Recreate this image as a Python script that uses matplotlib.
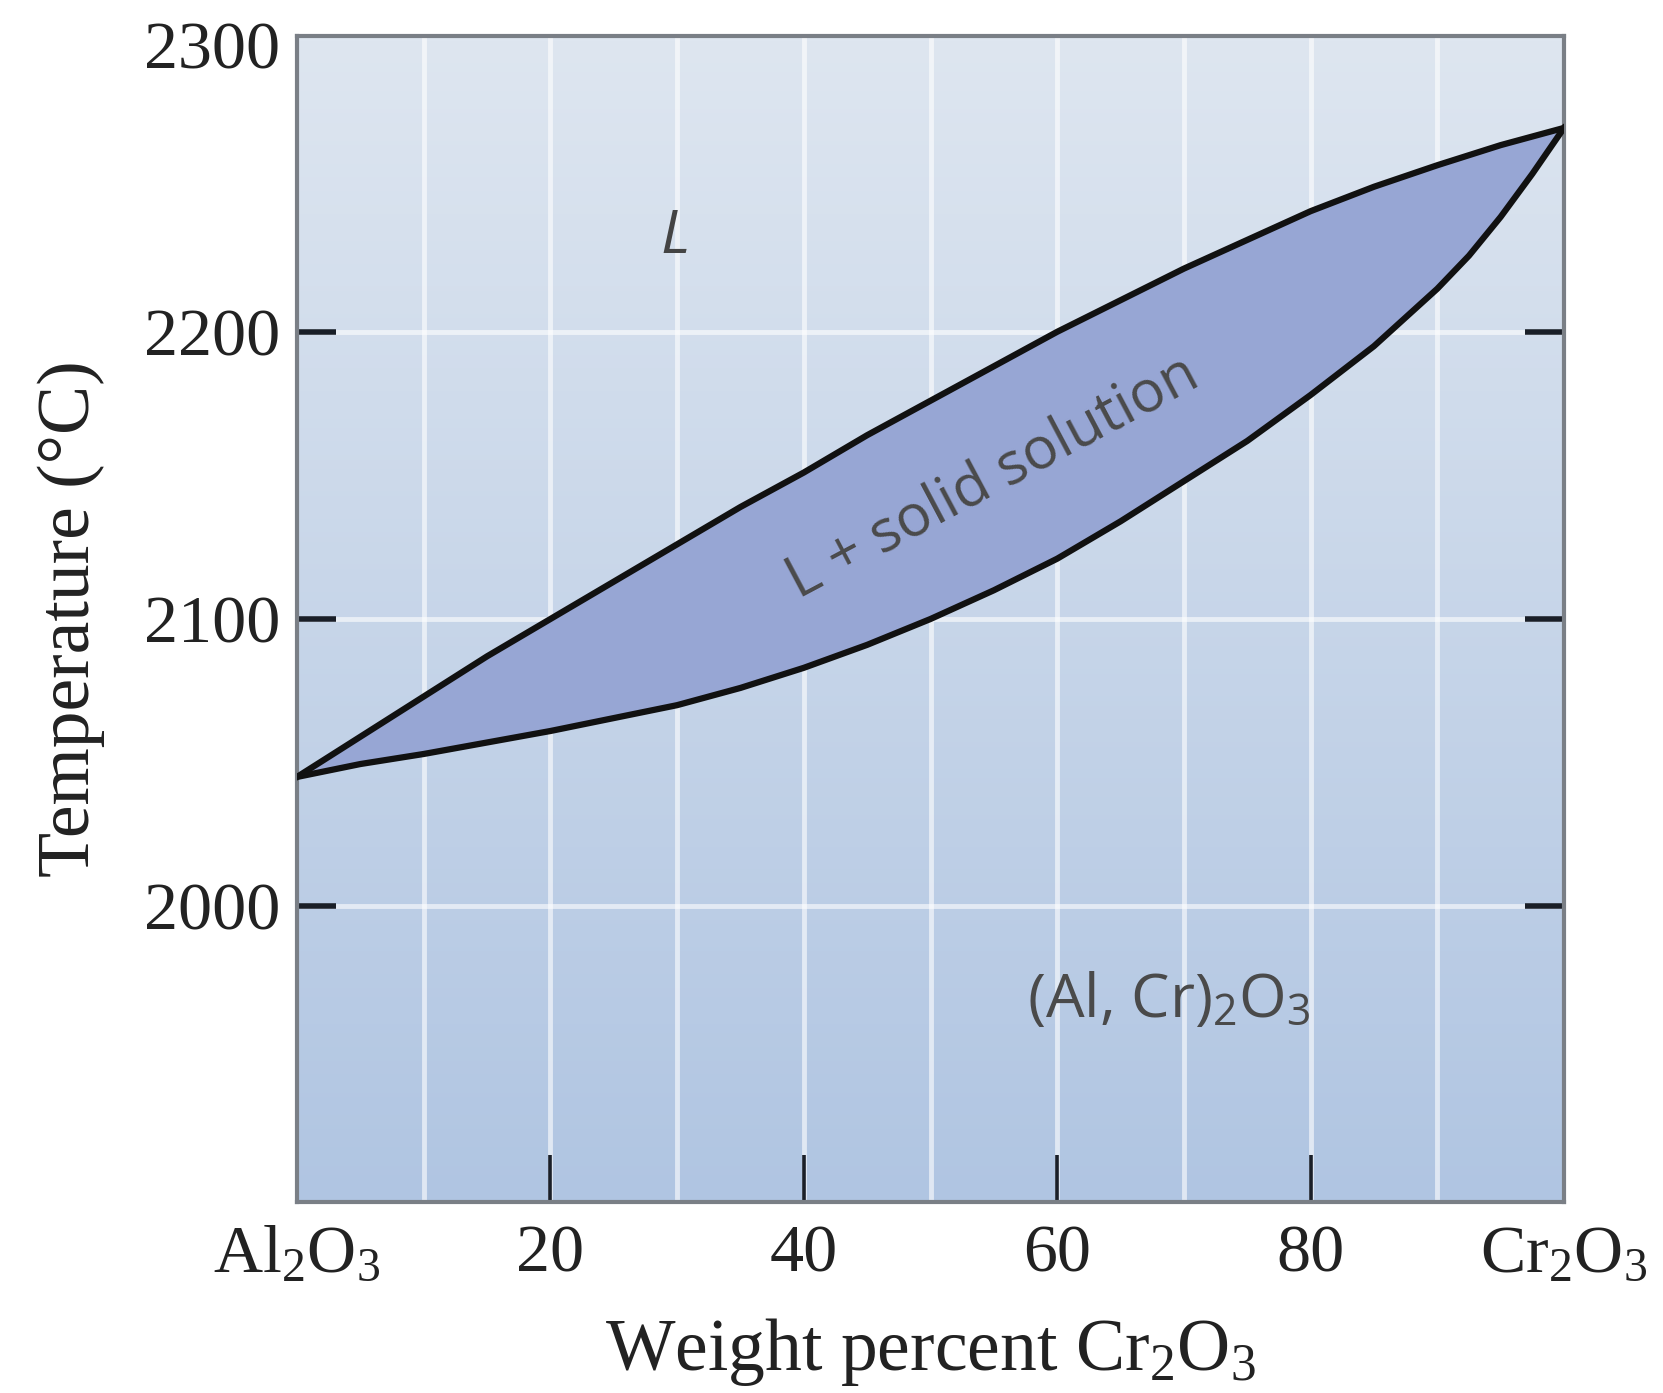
import numpy as np
import matplotlib.pyplot as plt

plt.rcParams['mathtext.fontset'] = 'custom'
plt.rcParams['mathtext.rm'] = 'Liberation Serif'
plt.rcParams['mathtext.it'] = 'Liberation Serif:italic'
plt.rcParams['mathtext.sf'] = 'Open Sans'

# composition (wt% Cr2O3) and phase boundary temperatures (C)
wt = [0, 5, 10, 15, 20, 25, 30, 35, 40, 45, 50, 55, 60, 65, 70, 75, 80, 85, 90,
      92.5, 95, 97.5, 100]
T_liquidus = [2045, 2059, 2073, 2087, 2100, 2113, 2126, 2139, 2151, 2164, 2176,
              2188, 2200, 2211, 2222, 2232, 2242, 2250.5, 2258, 2261.5, 2265, 2268, 2271]
T_solidus = [2045, 2049.5, 2053, 2057, 2061, 2065.5, 2070, 2076, 2083, 2091, 2100,
             2110, 2121, 2134, 2148, 2162, 2178, 2195, 2215, 2226.5, 2240, 2255, 2271]

xticks = [0, 20, 40, 60, 80, 100]
xticklabels = ['Al$_2$O$_3$', '20', '40', '60', '80', 'Cr$_2$O$_3$']
yticks = [2000, 2100, 2200, 2300]

W, H = 1663, 1393
fig = plt.figure(figsize=(W/100, H/100), dpi=100)
ax = fig.add_axes([297/W, 1-1202/H, (1564-297)/W, (1202-36)/H])
ax.set_xlim(0, 100)
ax.set_ylim(1897, 2303)

# background gradient, pale at the top and bluer at the bottom
top = np.array([222, 230, 240])/255
bot = np.array([176, 197, 226])/255
g = np.linspace(0, 1, 256)[:, None]
grad = (top*(1-g) + bot*g)[:, None, :].repeat(2, axis=1)
ax.imshow(grad, extent=[0, 100, 1897, 2303], aspect='auto', origin='upper', zorder=0)

for x in range(10, 100, 10):
    ax.axvline(x, color='white', lw=3.5, alpha=0.6, zorder=1)
for y in [2000, 2100, 2200]:
    ax.axhline(y, color='white', lw=3.5, alpha=0.6, zorder=1)

# two phase region
ax.fill_between(wt, T_solidus, T_liquidus, color='#97a6d4', zorder=2, lw=0)
ax.plot(wt, T_liquidus, color='#111111', lw=4.5, zorder=3, solid_joinstyle='round')
ax.plot(wt, T_solidus, color='#111111', lw=4.5, zorder=3, solid_joinstyle='round')

for s in ax.spines.values():
    s.set_color('#7a7f86')
    s.set_linewidth(3)

serif = 'Liberation Serif'
ax.set_xticks(xticks)
ax.set_xticklabels(xticklabels, fontfamily=serif, fontsize=49, color='#222222')
ax.set_yticks(yticks)
ax.set_yticklabels([str(v) for v in yticks], fontfamily=serif, fontsize=49, color='#222222')
ax.tick_params(axis='x', direction='in', length=34, width=2.6, color='#1a1f28', pad=16)
ax.tick_params(axis='y', direction='in', length=28, width=4, color='#1a1f28', pad=12,
               right=True)
# hide the ticks that have no mark in the diagram
for i, t in enumerate(ax.xaxis.get_major_ticks()):
    if i in (0, len(xticks)-1):
        t.tick1line.set_visible(False)
for t in ax.yaxis.get_major_ticks()[-1:]:
    t.tick1line.set_visible(False)
    t.tick2line.set_visible(False)

ax.set_xlabel('Weight percent Cr$_2$O$_3$', fontfamily=serif, fontsize=53, color='#222222',
              labelpad=22)
ax.set_ylabel('Temperature (°C)', fontfamily=serif, fontsize=53, color='#222222', labelpad=28)

sans = 'Open Sans'
ax.text(29.8, 2233, 'L', fontfamily=sans, style='italic', fontsize=44, color='#444444',
        ha='center', va='center', zorder=4)
ax.text(55.0, 2149, 'L + solid solution', fontfamily=sans, fontsize=42, color='#4a4a4a',
        rotation=28, rotation_mode='anchor', ha='center', va='center', zorder=4)
ax.text(68.8, 1967, r'(Al, Cr)$_\mathsf{2}$O$_\mathsf{3}$', fontfamily=sans, fontsize=44,
        color='#4a4a4a', ha='center', va='center', zorder=4)

fig.savefig('out.png', dpi=100)
